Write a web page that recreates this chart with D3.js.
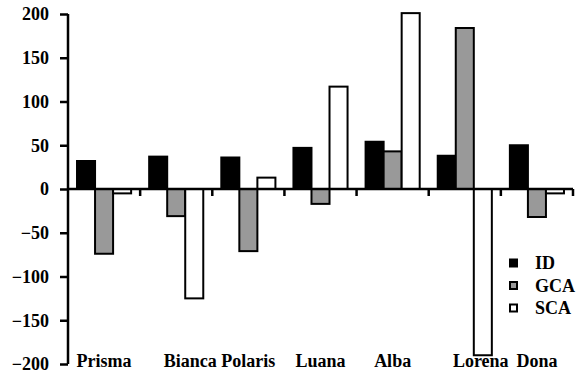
<!DOCTYPE html>
<html>
<head>
<meta charset="utf-8">
<script src="https://cdn.jsdelivr.net/npm/d3@7"></script>
<style>
  body { margin: 0; background: #fff; }
</style>
</head>
<body>
<svg id="chart" width="583" height="374"></svg>
<script>
var categories = ["Prisma", "Bianca", "Polaris", "Luana", "Alba", "Lorena", "Dona"];
var seriesNames = ["ID", "GCA", "SCA"];
var idValues  = [32, 37, 36, 47, 54, 38, 50];
var gcaValues = [-74, -31, -71, -17, 43, 184, -32];
var scaValues = [-5, -125, 13, 117, 201, -190, -5];
var yTicks = [-200, -150, -100, -50, 0, 50, 100, 150, 200];

var fills = { ID: "#000000", GCA: "#999999", SCA: "#ffffff" };
var serif = "'Liberation Serif', 'Times New Roman', serif";
// a couple of labels sit to the right of their group in the original
var labelNudge = { Bianca: 14, Lorena: 16 };

var svgWidth = 583, svgHeight = 374;
var margin = { top: 14, right: 10, bottom: 10, left: 68 };
var width = svgWidth - margin.left - margin.right;
var height = svgHeight - margin.top - margin.bottom;

var rows = categories.map(function(c, i) {
  return { name: c, ID: idValues[i], GCA: gcaValues[i], SCA: scaValues[i] };
});

var svg = d3.select("#chart");
var g = svg.append("g").attr("transform", "translate(" + margin.left + "," + margin.top + ")");

var x0 = d3.scaleBand().domain(categories).range([0, width]).padding(0);
var x1 = d3.scaleBand().domain(seriesNames)
  .range([x0.bandwidth() * 0.125, x0.bandwidth() * 0.875]).padding(0);
var y = d3.scaleLinear().domain([-200, 200]).range([height, 0]);

// bars
g.selectAll(".group")
  .data(rows)
  .enter().append("g")
  .attr("transform", function(d) { return "translate(" + x0(d.name) + ",0)"; })
  .selectAll("rect")
  .data(function(d) { return seriesNames.map(function(k) { return { key: k, value: d[k] }; }); })
  .enter().append("rect")
  .attr("x", function(d) { return x1(d.key); })
  .attr("width", x1.bandwidth())
  .attr("y", function(d) { return y(Math.max(0, d.value)); })
  .attr("height", function(d) { return Math.abs(y(d.value) - y(0)); })
  .attr("fill", function(d) { return fills[d.key]; })
  .attr("stroke", "#000")
  .attr("stroke-width", 2);

// y axis
var yAxis = g.append("g")
  .call(d3.axisLeft(y).tickValues(yTicks).tickSize(8).tickPadding(11).tickFormat(d3.format("d")));
yAxis.attr("font-family", serif);
yAxis.select(".domain").attr("stroke-width", 2.5).attr("d", "M0," + y(-200) + "V" + y(200));
yAxis.selectAll(".tick line").attr("stroke-width", 2.5);
yAxis.selectAll(".tick text")
  .style("font-family", serif).style("font-weight", "bold").style("font-size", "18px");

// x axis on zero line with ticks at band boundaries
var xAxis = g.append("g").attr("transform", "translate(0," + y(0) + ")");
xAxis.append("line").attr("x1", 0).attr("x2", width).attr("stroke", "#000").attr("stroke-width", 2.5);
var bounds = categories.map(function(c) { return x0(c); }).concat([width]);
xAxis.selectAll(".xt")
  .data(bounds.slice(1))
  .enter().append("line")
  .attr("x1", function(d) { return d; })
  .attr("x2", function(d) { return d; })
  .attr("y1", 0).attr("y2", 7)
  .attr("stroke", "#000").attr("stroke-width", 2.5);

// category labels along the bottom
g.selectAll(".cat")
  .data(categories)
  .enter().append("text")
  .attr("x", function(d) { return x0(d) + x0.bandwidth() / 2 + (labelNudge[d] || 0); })
  .attr("y", height + 3)
  .attr("text-anchor", "middle")
  .style("font-family", serif).style("font-weight", "bold").style("font-size", "18px")
  .text(function(d) { return d; });

// legend
var legend = svg.append("g").attr("transform", "translate(510,263)");
var items = legend.selectAll(".item")
  .data(seriesNames)
  .enter().append("g")
  .attr("transform", function(d, i) { return "translate(0," + (i * 22.5) + ")"; });
items.append("rect")
  .attr("x", 0).attr("y", -3.5).attr("width", 7).attr("height", 7)
  .attr("fill", function(d) { return fills[d]; })
  .attr("stroke", "#000").attr("stroke-width", 2);
items.append("text")
  .attr("x", 25).attr("y", 0).attr("dy", "0.35em")
  .style("font-family", serif).style("font-weight", "bold").style("font-size", "18px")
  .text(function(d) { return d; });
</script>
</body>
</html>
